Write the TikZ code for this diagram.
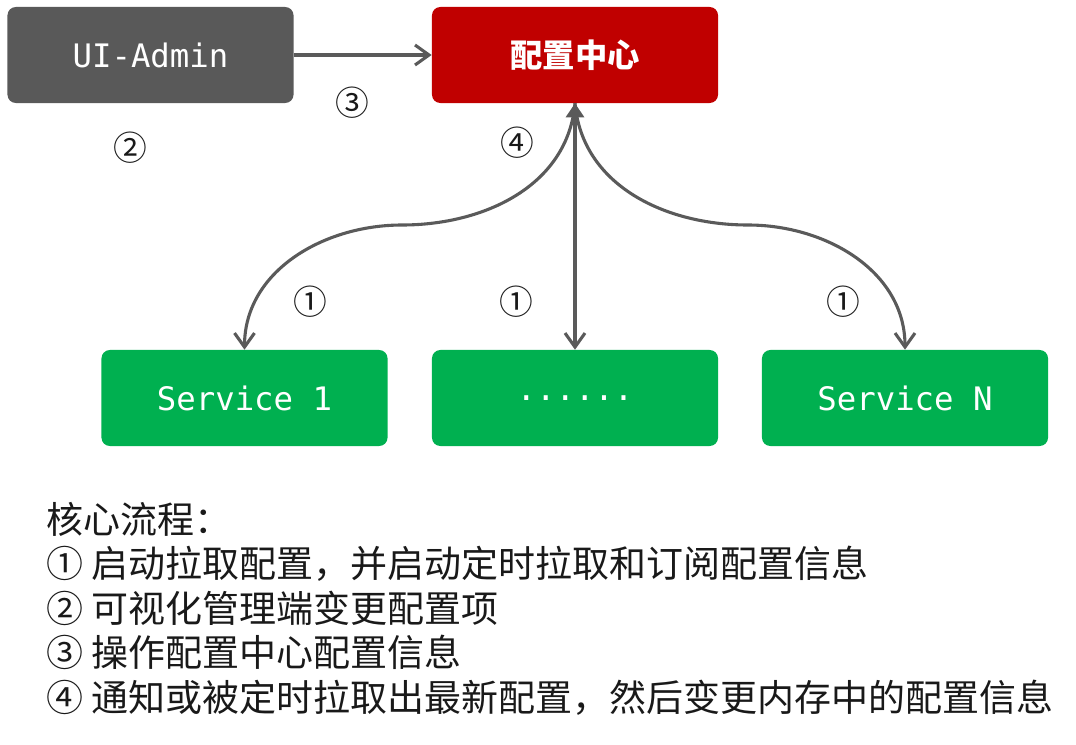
\documentclass[tikz,border=0pt]{standalone}
\usepackage{fontspec}
\setmonofont{DejaVu Sans Mono}
\newfontfamily\cjk{Noto Sans CJK SC}
\usetikzlibrary{arrows.meta, positioning}
\definecolor{cGray}{RGB}{89,89,89}
\definecolor{cRed}{RGB}{192,0,0}
\definecolor{cGreen}{RGB}{0,176,80}
\definecolor{cLine}{RGB}{90,90,90}
\definecolor{cText}{RGB}{25,25,25}
\tikzset{
	box/.style      ={rectangle, rounded corners=6pt, minimum width=7.15cm, minimum height=2.4cm, align=center, text=white, inner sep=0pt},
	admin/.style    ={box, fill=cGray, font=\ttfamily\fontsize{23}{23}\selectfont},
	hub/.style      ={box, fill=cRed, font=\cjk\bfseries\fontsize{23}{23}\selectfont},
	svc/.style      ={box, fill=cGreen, font=\ttfamily\fontsize{23}{23}\selectfont},
	steplabel/.style={font=\cjk\fontsize{24}{24}\selectfont, text=cText, inner sep=0pt},
	link/.style     ={-{Straight Barb[length=3.5mm, width=5mm]}, line width=2.2pt, draw=cLine},
}
\begin{document}
\begin{tikzpicture}[x=0.025cm, y=-0.025cm]
	\useasboundingbox (0,0) rectangle (1076,744);
	% boxes
	\node[admin] (uiadmin) at (150.5,55) {UI-Admin};
	\node[hub]   (center)  at (575,55)   {配置中心};
	\node[svc]   (svcone)  at (244.5,398) {Service 1};
	\node[svc]   (svcdots) at (575,398)  {......};
	\node[svc]   (svcn)    at (905,398)  {Service N};
	% bends of the two side curves
	\coordinate (lbend) at (402,225);
	\coordinate (rbend) at (748,225);
	% connectors
	\draw[link] (uiadmin) -- (center);
	\draw[link] (center.south) to[out=-95, in=0] (lbend) to[out=180, in=90] (svcone.north);
	\draw[link] (center.south) to[out=-85, in=180] (rbend) to[out=0, in=90] (svcn.north);
	\draw[link, {Triangle[length=3.5mm, width=4.5mm]}-{Straight Barb[length=3.5mm, width=5mm]}] (center.south) -- (svcdots.north);
	% step numbers
	\node[steplabel] (stwo)   at (130,148) {②};
	\node[steplabel] (sthree) at (352,103) {③};
	\node[steplabel] (sfour)  at (517,143) {④};
	\foreach \x/\name in {310/a, 516/b, 843/c}
		\node[steplabel] (sone\name) at (\x,302) {①};
	% legend
	\node[anchor=north west, align=left, inner sep=0pt, text=cText, font=\cjk\fontsize{26.3}{31.6}\selectfont] (notes) at (46,502)
		{核心流程：\\
		① 启动拉取配置，并启动定时拉取和订阅配置信息\\
		② 可视化管理端变更配置项\\
		③ 操作配置中心配置信息\\
		④ 通知或被定时拉取出最新配置，然后变更内存中的配置信息};
\end{tikzpicture}
\end{document}
